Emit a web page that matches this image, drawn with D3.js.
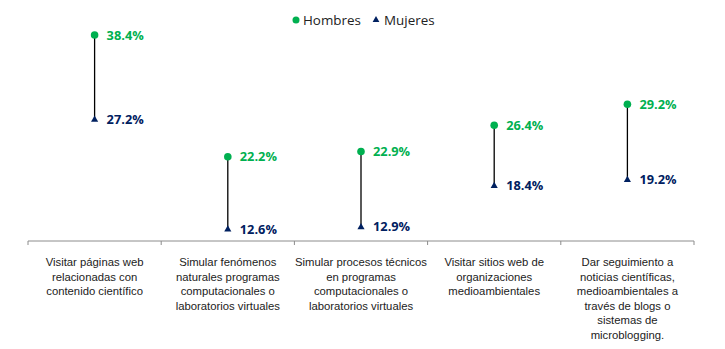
<!DOCTYPE html>
<html>
<head>
<meta charset="utf-8">
<script src="https://cdn.jsdelivr.net/npm/d3@7"></script>
<style>
  html, body { margin: 0; padding: 0; background: #fff; }
  svg { display: block; font-family: "Open Sans", "Noto Sans", sans-serif; }
</style>
</head>
<body>
<svg id="chart" width="725" height="349"></svg>
<script>
// Activities (categories), one label line per array entry
const categories = [
  ["Visitar páginas web", "relacionadas con", "contenido científico"],
  ["Simular fenómenos", "naturales programas", "computacionales o", "laboratorios virtuales"],
  ["Simular procesos técnicos", "en programas", "computacionales o", "laboratorios virtuales"],
  ["Visitar sitios web de", "organizaciones", "medioambientales"],
  ["Dar seguimiento a", "noticias científicas,", "medioambientales a", "través de blogs o", "sistemas de", "microblogging."]
];
const hombres = [38.4, 22.2, 22.9, 26.4, 29.2];
const mujeres = [27.2, 12.6, 12.9, 18.4, 19.2];
const seriesNames = ["Hombres", "Mujeres"];

const GREEN = "#00B050";
const NAVY = "#002060";

const svg = d3.select("#chart");
const margin = { left: 28, right: 31, top: 23, bottom: 108 };
const W = 725, H = 349;

const x = d3.scaleBand()
  .domain(d3.range(categories.length))
  .range([margin.left, W - margin.right])
  .padding(0);

const y = d3.scaleLinear()
  .domain([11, 40])
  .range([H - margin.bottom, margin.top]);

const axisY = H - margin.bottom;

// Category axis: baseline with boundary ticks
const xAxis = d3.axisBottom(x).tickSize(0).tickFormat("");
const gx = svg.append("g").attr("transform", `translate(0,${axisY})`).call(xAxis);
gx.select(".domain").attr("stroke", "#8c8c8c").attr("stroke-width", 1).attr("d", `M${margin.left},0H${W - margin.right}`);

const bounds = d3.range(categories.length + 1).map(i => i < categories.length ? x(i) : x(i - 1) + x.bandwidth());
gx.selectAll("line.bound").data(bounds).join("line")
  .attr("class", "bound")
  .attr("x1", d => d).attr("x2", d => d)
  .attr("y1", 0).attr("y2", 4)
  .attr("stroke", "#8c8c8c").attr("stroke-width", 1);

// Category labels
const labels = gx.selectAll("text.cat").data(categories).join("text")
  .attr("class", "cat")
  .attr("text-anchor", "middle")
  .attr("font-size", 11.3)
  .attr("fill", "#222");
labels.each(function(lines, i) {
  d3.select(this).selectAll("tspan").data(lines).join("tspan")
    .attr("x", x(i) + x.bandwidth() / 2)
    .attr("y", (d, k) => 25 + k * 14.5)
    .text(d => d);
});

const cx = i => x(i) + x.bandwidth() / 2;

// Connectors
svg.append("g").selectAll("line").data(hombres).join("line")
  .attr("x1", (d, i) => cx(i)).attr("x2", (d, i) => cx(i))
  .attr("y1", d => y(d))
  .attr("y2", (d, i) => y(mujeres[i]))
  .attr("stroke", "#000").attr("stroke-width", 1.3);

// Hombres markers
svg.append("g").selectAll("circle").data(hombres).join("circle")
  .attr("cx", (d, i) => cx(i)).attr("cy", d => y(d)).attr("r", 3.8)
  .attr("fill", GREEN);

// Mujeres markers
const tri = d3.symbol().type(d3.symbolTriangle).size(22);
svg.append("g").selectAll("path").data(mujeres).join("path")
  .attr("d", tri)
  .attr("transform", (d, i) => `translate(${cx(i)},${y(d) + 0.5})`)
  .attr("fill", NAVY);

// Value labels
const fmt = d => d.toFixed(1) + "%";
svg.append("g").selectAll("text").data(hombres).join("text")
  .attr("x", (d, i) => cx(i) + 12).attr("y", d => y(d)).attr("dy", "0.36em")
  .attr("font-size", 12.8).attr("font-weight", "bold").attr("fill", GREEN)
  .text(fmt);
svg.append("g").selectAll("text").data(mujeres).join("text")
  .attr("x", (d, i) => cx(i) + 12).attr("y", d => y(d)).attr("dy", "0.36em")
  .attr("font-size", 12.8).attr("font-weight", "bold").attr("fill", NAVY)
  .text(fmt);

// Legend
const legend = svg.append("g").attr("transform", "translate(296,20)");
legend.append("circle").attr("cx", 0).attr("cy", 0).attr("r", 3.5).attr("fill", GREEN);
legend.append("text").attr("x", 7).attr("y", 0).attr("dy", "0.35em")
  .attr("font-size", 13.4).attr("fill", "#222").text(seriesNames[0]);
legend.append("path").attr("d", d3.symbol().type(d3.symbolTriangle).size(20))
  .attr("transform", "translate(80,0)").attr("fill", NAVY);
legend.append("text").attr("x", 88).attr("y", 0).attr("dy", "0.35em")
  .attr("font-size", 13.4).attr("fill", "#222").text(seriesNames[1]);
</script>
</body>
</html>
